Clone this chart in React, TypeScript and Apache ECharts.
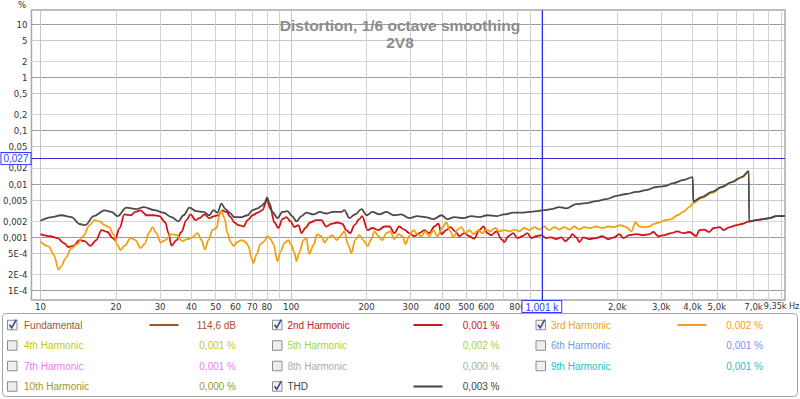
import { useEffect, useRef } from 'react';
import * as echarts from 'echarts';

const FONT = "'Liberation Sans', Arial, sans-serif";
const NARROW = "'Liberation Sans Narrow', 'Arial Narrow', 'DejaVu Sans Condensed', 'Liberation Sans', sans-serif";

// ---- data (frequency in Hz, distortion in %) ----
const thdFreq = [10, 11.1, 12.1, 13.3, 14.3, 15.1, 16.3, 18.0, 19.2, 20.3, 22.0, 24.2, 25.8, 28.5, 30.9, 33.3, 35.5, 37.2, 39.3, 41.9, 44.7, 47.2, 49, 50.8, 52.7, 54.7, 56.8, 59.4, 63.4, 67, 70.2, 73.5, 76.2, 78.3, 80.2, 81.9, 84.2, 88.2, 92.3, 96.7, 101, 105, 110, 115, 123, 130, 138, 147, 159, 163, 171, 180, 191, 200, 211, 225, 240, 256, 275, 296, 319, 343, 370, 398, 420, 448, 487, 524, 564, 607, 659, 709, 770, 829, 892, 951, 1024, 1092, 1175, 1253, 1374, 1506, 1651, 1810, 1984, 2175, 2384, 2614, 2865, 3083, 3350, 3673, 4006, 4025, 4354, 4773, 5232, 5735, 6287, 6706, 6720, 7180, 7660, 8090, 8630, 9350];
const thdPct = [0.00205, 0.0024, 0.0026, 0.0024, 0.00178, 0.0017, 0.0025, 0.0032, 0.003, 0.0025, 0.0036, 0.0034, 0.0037, 0.00325, 0.0029, 0.0024, 0.002, 0.0026, 0.0036, 0.0031, 0.003, 0.0026, 0.00325, 0.0029, 0.0043, 0.0034, 0.0029, 0.0024, 0.0024, 0.0026, 0.00325, 0.0035, 0.0039, 0.0044, 0.0056, 0.0044, 0.003, 0.0023, 0.003, 0.0031, 0.0025, 0.002, 0.0025, 0.0029, 0.0027, 0.003, 0.0028, 0.003, 0.003, 0.00325, 0.0023, 0.0027, 0.0034, 0.0026, 0.003, 0.0027, 0.003, 0.0026, 0.0027, 0.0023, 0.0025, 0.0024, 0.0022, 0.0026, 0.0022, 0.0024, 0.0023, 0.0025, 0.0024, 0.0026, 0.0025, 0.0027, 0.0029, 0.0029, 0.003, 0.0031, 0.00325, 0.0034, 0.0037, 0.0035, 0.0042, 0.0044, 0.0048, 0.0052, 0.006, 0.0065, 0.0071, 0.0077, 0.0088, 0.0091, 0.0104, 0.0119, 0.0135, 0.0047, 0.0057, 0.0071, 0.0088, 0.0109, 0.0135, 0.0175, 0.00198, 0.00211, 0.0022, 0.0023, 0.0025, 0.0025];

const h2Freq = [10, 10.9, 11.7, 12.4, 12.9, 13.5, 14.3, 15, 15.8, 16.7, 17.5, 18.5, 19.4, 19.8, 20.7, 21.6, 22.9, 23.9, 25.1, 26.5, 28.2, 29.8, 31.5, 32.4, 33.3, 34.9, 36.5, 38.2, 39.7, 41.5, 43.1, 45.1, 47.2, 49.4, 51.3, 53.2, 55.2, 57.3, 59.4, 61.7, 64.6, 67, 70.2, 73.5, 76.8, 80.2, 82.7, 85.8, 89, 92.3, 95.8, 99.4, 103, 107, 110, 114, 119, 126, 132, 138, 145, 153, 160, 166, 172, 179, 187, 192, 202, 211, 223, 236, 247, 258, 270, 283, 296, 310, 325, 340, 356, 373, 387, 398, 416, 432, 452, 469, 491, 514, 538, 564, 585, 607, 630, 659, 690, 709, 736, 770, 799, 837, 876, 909, 951, 996, 1043, 1092, 1143, 1197, 1242, 1289, 1325, 1374, 1413, 1466, 1548, 1651, 1745, 1844, 1948, 2040, 2116, 2236, 2384, 2543, 2687, 2788, 2919, 3083, 3289, 3475, 3673, 3880, 4139, 4254, 4453, 4645, 4862, 5135, 5328, 5630, 6003, 6345, 6706, 7180, 7660, 8090, 8630, 9350];
const h2Pct = [0.00115, 0.00105, 0.00097, 0.00078, 0.00066, 0.00069, 0.00089, 0.00085, 0.00069, 0.00089, 0.00137, 0.00126, 0.00097, 0.00089, 0.0015, 0.0027, 0.0026, 0.003, 0.0032, 0.0026, 0.0026, 0.0025, 0.0019, 0.0012, 0.0007, 0.00089, 0.00126, 0.0021, 0.0027, 0.0021, 0.0023, 0.0027, 0.0023, 0.0025, 0.0026, 0.0032, 0.003, 0.0024, 0.0019, 0.0017, 0.0016, 0.0021, 0.0026, 0.0029, 0.00325, 0.005, 0.0034, 0.0019, 0.0015, 0.0022, 0.0024, 0.002, 0.00156, 0.0017, 0.0012, 0.0015, 0.0019, 0.0021, 0.0021, 0.0016, 0.0018, 0.0019, 0.0018, 0.00137, 0.0012, 0.0017, 0.0022, 0.0025, 0.00137, 0.0015, 0.00137, 0.0016, 0.0016, 0.0012, 0.0016, 0.0014, 0.0012, 0.00105, 0.0012, 0.00137, 0.0012, 0.0016, 0.0018, 0.00115, 0.00137, 0.00156, 0.0013, 0.00105, 0.0012, 0.00105, 0.00095, 0.00137, 0.0016, 0.0012, 0.0011, 0.0013, 0.00093, 0.00082, 0.00105, 0.0012, 0.00097, 0.00105, 0.0012, 0.00097, 0.00105, 0.0011, 0.00097, 0.001, 0.00093, 0.001, 0.00085, 0.00097, 0.00115, 0.001, 0.00082, 0.001, 0.00093, 0.00097, 0.00105, 0.00093, 0.001, 0.00115, 0.00097, 0.0011, 0.00115, 0.0011, 0.00115, 0.00126, 0.00105, 0.0011, 0.0012, 0.0013, 0.0012, 0.00126, 0.00106, 0.00137, 0.0014, 0.00126, 0.0015, 0.00156, 0.00137, 0.00156, 0.0017, 0.0018, 0.002, 0.0021, 0.0022, 0.0023, 0.0025, 0.0025];

const h3Freq = [10, 10.8, 11.3, 11.8, 12.1, 12.6, 13.3, 14, 14.8, 15.7, 16.4, 17.2, 18, 18.8, 19.5, 20.3, 20.8, 21.6, 22.9, 23.9, 25.1, 26, 27.2, 28, 29, 30.1, 31.5, 33.3, 34.9, 36.8, 38.6, 40, 42.3, 43.9, 45.3, 46.8, 48.5, 50.4, 51.8, 52.7, 54.2, 55.7, 57.3, 58.9, 61.1, 63.4, 65.7, 67.6, 69.4, 70.7, 72.7, 75.4, 78.3, 80.4, 82.7, 85, 88.2, 90.6, 94, 97.5, 100, 103, 105, 108, 112, 115, 118, 123, 127, 132, 136, 141, 146, 152, 157, 163, 169, 174, 180, 187, 194, 202, 209, 215, 223, 231, 240, 249, 258, 268, 278, 286, 296, 307, 319, 331, 343, 356, 370, 383, 401, 416, 432, 444, 461, 478, 496, 514, 534, 559, 580, 601, 624, 653, 677, 709, 743, 778, 814, 852, 892, 934, 978, 1024, 1072, 1123, 1175, 1231, 1289, 1349, 1413, 1479, 1563, 1651, 1745, 1844, 1948, 2058, 2175, 2277, 2367, 2457, 2573, 2687, 2813, 2944, 3112, 3289, 3475, 3673, 3880, 4025, 4354, 4773, 5232, 5735, 6287, 6645];
const h3Pct = [0.00083, 0.00067, 0.00047, 0.00025, 0.00029, 0.00041, 0.00063, 0.00075, 0.00106, 0.0017, 0.0021, 0.002, 0.0017, 0.00155, 0.00115, 0.00072, 0.00058, 0.00069, 0.00097, 0.00089, 0.00063, 0.00075, 0.00126, 0.00156, 0.0012, 0.0008, 0.00089, 0.00115, 0.0011, 0.00085, 0.00093, 0.00097, 0.0012, 0.00089, 0.00059, 0.00089, 0.00137, 0.0015, 0.0027, 0.0031, 0.0023, 0.0012, 0.00082, 0.00069, 0.00082, 0.00089, 0.00082, 0.00069, 0.00041, 0.00033, 0.00047, 0.00075, 0.00085, 0.00106, 0.00093, 0.00075, 0.00036, 0.00053, 0.00078, 0.00089, 0.00072, 0.00053, 0.00036, 0.00053, 0.00089, 0.00097, 0.00049, 0.00072, 0.00115, 0.00105, 0.0008, 0.001, 0.0011, 0.00089, 0.00105, 0.0013, 0.00072, 0.00051, 0.00089, 0.0011, 0.00089, 0.00069, 0.00093, 0.0013, 0.00105, 0.00089, 0.0012, 0.0013, 0.00093, 0.00115, 0.00105, 0.00075, 0.00105, 0.00137, 0.00115, 0.00105, 0.0013, 0.00105, 0.00137, 0.00105, 0.0015, 0.0019, 0.0013, 0.001, 0.0014, 0.00156, 0.0012, 0.00137, 0.00115, 0.00137, 0.0012, 0.0014, 0.0013, 0.0015, 0.0013, 0.00137, 0.0013, 0.0014, 0.0013, 0.0015, 0.00137, 0.00156, 0.0014, 0.0016, 0.00137, 0.00156, 0.0014, 0.00156, 0.0014, 0.0016, 0.0014, 0.00156, 0.0015, 0.0016, 0.0015, 0.0016, 0.00156, 0.0017, 0.00156, 0.0013, 0.0019, 0.0016, 0.00156, 0.0016, 0.0018, 0.0019, 0.0021, 0.0022, 0.0026, 0.003, 0.0037, 0.0044, 0.0055, 0.0068, 0.0088, 0.0109, 0.0135, 0.0167];

// ---- axes ----
const xMin = 9.2;
const xMax = 9350;
const yMin = 0.000067;
const yMax = 18.3;
const yTickValues = [0.0001, 0.0002, 0.0005, 0.001, 0.002, 0.005, 0.01, 0.02, 0.05, 0.1, 0.2, 0.5, 1, 2, 5, 10];
const yTickLabels = ['1E-4', '2E-4', '5E-4', '0,001', '0,002', '0,005', '0,01', '0,02', '0,05', '0,1', '0,2', '0,5', '1', '2', '5', '10'];
const xGridValues = [10, 20, 30, 40, 50, 60, 70, 80, 90, 100, 200, 300, 400, 500, 600, 700, 800, 900, 1000, 2000, 3000, 4000, 5000, 6000, 7000, 8000, 9000];
const xLabelValues = [10, 20, 30, 40, 50, 60, 70, 80, 100, 200, 300, 400, 500, 600, 800, 2000, 3000, 4000, 5000, 7000];
const xLabelTexts = ['10', '20', '30', '40', '50', '60', '70', '80', '100', '200', '300', '400', '500', '600', '800', '2,0k', '3,0k', '4,0k', '5,0k', '7,0k'];
const xEndLabel = '9,35k';
const xUnit = 'Hz';
const yUnit = '%';

// ---- cursor ----
const cursorFreq = 1001;
const cursorPct = 0.027;
const cursorFreqLabel = '1,001 k';
const cursorPctLabel = '0,027';

// ---- legend ----
const legendNames = ['Fundamental', '2nd Harmonic', '3rd Harmonic', '4th Harmonic', '5th Harmonic', '6th Harmonic', '7th Harmonic', '8th Harmonic', '9th Harmonic', '10th Harmonic', 'THD'];
const legendValues = ['114,6 dB', '0,001 %', '0,002 %', '0,001 %', '0,002 %', '0,001 %', '0,001 %', '0,000 %', '0,001 %', '0,000 %', '0,003 %'];
const legendChecked = [true, true, true, false, false, false, false, false, false, false, true];
const legendColors = ['#a8532c', '#d2142a', '#f0a020', '#c8c810', '#a4d444', '#6f98ec', '#f07cf0', '#acacac', '#24c4c4', '#a09628', '#444444'];

const title1 = 'Distortion, 1/6 octave smoothing';
const title2 = '2V8';

function pairs(f: number[], v: number[]) {
  return f.map((x, i) => [x, v[i]]);
}
function lookup(values: number[], labels: string[], v: number) {
  let best = 0;
  let d = Infinity;
  values.forEach((t, i) => {
    const dd = Math.abs(Math.log10(t) - Math.log10(v));
    if (dd < d) {
      d = dd;
      best = i;
    }
  });
  return labels[best];
}

function buildLegend() {
  const colBox = [7.5, 272.5, 536];
  const colName = [24, 287.5, 551];
  const colLine = [149.5, 413.5, 677.5];
  const colVal = [236, 499.5, 763];
  const rowY = [325, 345.5, 366, 386.5];
  const els: any[] = [
    {
      type: 'rect',
      shape: { x: 2.5, y: 313.5, width: 795, height: 83, r: 4 },
      style: { fill: '#ffffff', stroke: '#a4a4a4', lineWidth: 1 },
      z: 10,
    },
  ];
  legendNames.forEach((name, i) => {
    const r = Math.floor(i / 3);
    const c = i % 3;
    const y = rowY[r];
    const bx = colBox[c];
    const by = y - 4.75;
    els.push({
      type: 'rect',
      shape: { x: bx, y: by, width: 9.5, height: 9.5 },
      style: { fill: legendChecked[i] ? '#f2f4f8' : '#eeeeee', stroke: '#8c8c8c', lineWidth: 1 },
      z: 11,
    });
    if (legendChecked[i]) {
      els.push({
        type: 'polyline',
        shape: { points: [[bx + 2, by + 4.5], [bx + 4.2, by + 7.6], [bx + 8.8, by - 0.6]] },
        style: { stroke: '#34488e', lineWidth: 1.6, fill: 'none' },
        z: 12,
      });
      els.push({
        type: 'line',
        shape: { x1: colLine[c], y1: y, x2: colLine[c] + 29, y2: y },
        style: { stroke: legendColors[i], lineWidth: 2 },
        z: 11,
      });
    }
    els.push({
      type: 'text',
      x: colName[c],
      y,
      style: { text: name, fill: legendColors[i], font: `10px ${FONT}`, verticalAlign: 'middle', align: 'left' },
      z: 11,
    });
    els.push({
      type: 'text',
      x: colVal[c],
      y,
      style: { text: legendValues[i], fill: legendColors[i], font: `10px ${FONT}`, verticalAlign: 'middle', align: 'right' },
      z: 11,
    });
  });
  return els;
}

const lineBase = {
  type: 'line',
  showSymbol: false,
  symbol: 'none',
  smooth: 0.35,
  smoothMonotone: 'x',
  silent: true,
};

function buildOption() {
  return {
    animation: false,
    backgroundColor: '#ffffff',
    title: [
      {
        text: title1,
        left: 'center',
        top: 12,
        textStyle: { fontFamily: FONT, fontSize: 15.5, fontWeight: 'bold', color: '#8c8c8c' },
      },
      {
        text: title2,
        left: 'center',
        top: 29,
        textStyle: { fontFamily: FONT, fontSize: 15.5, fontWeight: 'bold', color: '#8c8c8c' },
      },
    ],
    grid: {
      left: 30,
      top: 10,
      right: 15,
      bottom: 99,
      show: true,
      borderColor: '#a8a8a8',
      borderWidth: 1.5,
      backgroundColor: '#ffffff',
    },
    xAxis: {
      type: 'log',
      logBase: 10,
      min: xMin,
      max: xMax,
      axisLine: { show: false },
      axisTick: { show: false, customValues: xGridValues },
      axisLabel: {
        customValues: xLabelValues,
        formatter: (v: number) => lookup(xLabelValues, xLabelTexts, v),
        fontFamily: NARROW,
        fontSize: 9.5,
        color: '#333333',
        margin: 1.5,
      },
      splitLine: { show: true, lineStyle: { color: ['#c4c4c4', '#d2d2d2', '#d2d2d2', '#d2d2d2', '#d2d2d2', '#d2d2d2', '#d2d2d2', '#d2d2d2', '#d2d2d2'], width: 1 } },
    },
    yAxis: {
      type: 'log',
      logBase: 10,
      min: yMin,
      max: yMax,
      axisLine: { show: false },
      axisTick: { show: false, customValues: yTickValues },
      axisLabel: {
        customValues: yTickValues,
        formatter: (v: number) => lookup(yTickValues, yTickLabels, v),
        fontFamily: NARROW,
        fontSize: 9.5,
        color: '#333333',
        margin: 4,
      },
      splitLine: { show: true, lineStyle: { color: ['#9c9c9c', '#d6d6d6', '#cacaca'], width: 1 } },
    },
    series: [
      {
        ...lineBase,
        name: '2nd Harmonic',
        data: pairs(h2Freq, h2Pct),
        lineStyle: { color: '#d21418', width: 1.8 },
        z: 3,
        markLine: {
          silent: true,
          symbol: ['none', 'none'],
          animation: false,
          lineStyle: { color: '#2b2be0', width: 1, type: 'solid' },
          data: [
            {
              yAxis: cursorPct,
              label: {
                show: true,
                position: 'start',
                distance: 1,
                formatter: () => cursorPctLabel,
                color: '#2f3cff',
                fontFamily: FONT,
                fontSize: 10,
                backgroundColor: '#ffffff',
                borderColor: '#2f3cff',
                borderWidth: 1,
                padding: [1, 2, 0, 2],
              },
            },
            {
              xAxis: cursorFreq,
              label: {
                show: true,
                position: 'start',
                distance: 1,
                formatter: () => cursorFreqLabel,
                color: '#2f3cff',
                fontFamily: FONT,
                fontSize: 10,
                backgroundColor: '#ffffff',
                borderColor: '#2f3cff',
                borderWidth: 1,
                padding: [1, 3, 0, 3],
              },
            },
          ],
        },
      },
      {
        ...lineBase,
        name: '3rd Harmonic',
        data: pairs(h3Freq, h3Pct),
        lineStyle: { color: '#f0a010', width: 1.8 },
        z: 4,
      },
      {
        ...lineBase,
        name: 'THD',
        data: pairs(thdFreq, thdPct),
        lineStyle: { color: '#4a4a4a', width: 1.8 },
        z: 5,
      },
    ],
    graphic: [
      {
        type: 'text',
        x: 22,
        y: 4.5,
        style: { text: yUnit, fill: '#333333', font: `9.5px ${NARROW}`, align: 'center', verticalAlign: 'middle' },
      },
      {
        type: 'text',
        x: 786.5,
        y: 306,
        style: { text: xEndLabel, fill: '#333333', font: `9px ${NARROW}`, align: 'right', verticalAlign: 'middle' },
      },
      {
        type: 'text',
        x: 789,
        y: 306,
        style: { text: xUnit, fill: '#333333', font: `9px ${NARROW}`, align: 'left', verticalAlign: 'middle' },
      },
      ...buildLegend(),
    ],
  };
}

export default function App() {
  const ref = useRef<HTMLDivElement>(null);
  useEffect(() => {
    if (!ref.current) return;
    const chart = echarts.init(ref.current, null, { renderer: 'svg' });
    chart.setOption(buildOption() as any);
    return () => chart.dispose();
  }, []);
  return (
    <div
      ref={ref}
      style={{ position: 'absolute', left: 0, top: 0, width: 800, height: 399, background: '#ffffff' }}
    />
  );
}
